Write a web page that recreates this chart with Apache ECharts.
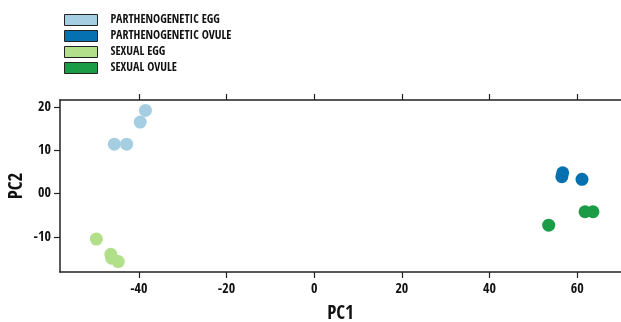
<!DOCTYPE html>
<html><head><meta charset="utf-8">
<script src="https://cdn.jsdelivr.net/npm/echarts@6/dist/echarts.min.js"></script>
<style>html,body{margin:0;padding:0;background:#fff}#c{width:621px;height:322px}</style>
</head><body><div id="c"></div>
<script>
const groups = ['PARTHENOGENETIC EGG', 'PARTHENOGENETIC OVULE', 'SEXUAL EGG', 'SEXUAL OVULE'];
const colors = ['#a6cee3', '#0571b0', '#b2df8a', '#1a9c47'];
const parthEgg = [[-38.5, 19.2], [-39.7, 16.5], [-45.6, 11.4], [-42.8, 11.4]];
const parthOvule = [[56.7, 4.8], [56.5, 3.9], [61.1, 3.3]];
const sexEgg = [[-49.7, -10.5], [-46.4, -14.0], [-46.2, -14.9], [-44.7, -15.7]];
const sexOvule = [[61.8, -4.2], [63.6, -4.2], [53.5, -7.3]];
const xTicks = [-40, -20, 0, 20, 40, 60];
const yTicks = [-10, 0, 10, 20];
const seriesData = [parthEgg, parthOvule, sexEgg, sexOvule];

const FONT = "'Open Sans Condensed', 'Roboto Condensed', sans-serif";
const FW = 800;
const axisLine = {show: true, onZero: false, lineStyle: {color: '#222', width: 1.5}};
const tickStyle = {color: '#222', width: 1.2};
const chart = echarts.init(document.getElementById('c'));
chart.setOption({
  animation: false,
  textStyle: {fontFamily: FONT},
  grid: {left: 60, right: 0, top: 100, bottom: 50, outerBoundsMode: 'none'},
  legend: {
    orient: 'vertical', left: 64, top: 14, itemGap: 4, padding: 0,
    itemWidth: 33, itemHeight: 11, icon: 'rect',
    itemStyle: {borderColor: '#222', borderWidth: 1},
    textStyle: {fontFamily: FONT, fontWeight: FW, fontSize: 12, color: '#111', padding: [0, 0, 0, 8]},
    data: groups
  },
  xAxis: [{
    type: 'value', min: -58, max: 70, position: 'bottom',
    name: 'PC1', nameLocation: 'middle', nameGap: 33,
    nameTextStyle: {fontFamily: FONT, fontWeight: FW, fontSize: 19, color: '#111'},
    axisLine: axisLine, splitLine: {show: false},
    axisTick: {show: true, length: 6, lineStyle: tickStyle, customValues: xTicks},
    axisLabel: {customValues: xTicks, fontFamily: FONT, fontWeight: FW, fontSize: 14, color: '#111', margin: 10}
  }, {
    type: 'value', min: -58, max: 70, position: 'top',
    axisLine: axisLine, splitLine: {show: false},
    axisTick: {show: true, length: 6, lineStyle: tickStyle, customValues: xTicks},
    axisLabel: {show: false}
  }],
  yAxis: {
    type: 'value', min: -18.1, max: 21.6,
    name: 'PC2', nameLocation: 'middle', nameGap: 33, nameMoveOverlap: false,
    nameTextStyle: {fontFamily: FONT, fontWeight: FW, fontSize: 19, color: '#111'},
    axisLine: axisLine, splitLine: {show: false},
    axisTick: {show: true, length: 6, lineStyle: tickStyle, customValues: yTicks},
    axisLabel: {customValues: yTicks, fontFamily: FONT, fontWeight: FW, fontSize: 14, color: '#111', margin: 9,
      formatter: v => v === 0 ? '00' : String(v)}
  },
  series: groups.map((g, i) => ({
    name: g, type: 'scatter', symbolSize: 13,
    itemStyle: {color: colors[i], opacity: 1},
    data: seriesData[i]
  }))
});
</script></body></html>
